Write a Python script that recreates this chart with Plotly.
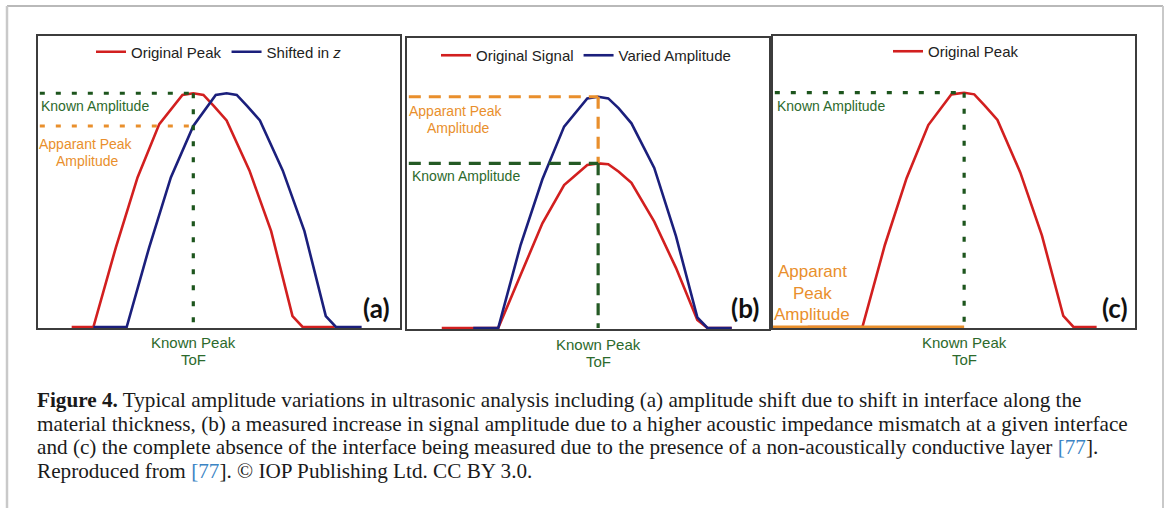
import numpy as np
import plotly.graph_objects as go

W, H = 1167, 508

# ---------------- data: time of flight (arb. units) vs normalised amplitude ----------------
# (a) interface shifted along the thickness
a_orig_t = [9.3, 15.3, 21.5, 27.5, 33.5, 39.9, 42.9, 45.7, 48.6, 52.1, 58.4, 64.4, 70.3, 73.1, 82.0]
a_orig_amp = [0, 0, 0.34, 0.64, 0.868, 0.993, 1.0, 0.993, 0.945, 0.884, 0.67, 0.41, 0.047, 0, 0]
a_shift_t = [15.3, 24.5, 30.7, 36.7, 42.9, 49.1, 52.1, 54.9, 57.8, 61.3, 67.6, 73.6, 79.5, 82.3, 89.4]
a_shift_amp = [0, 0, 0.34, 0.64, 0.86, 0.993, 1.0, 0.993, 0.945, 0.884, 0.67, 0.41, 0.047, 0, 0]

# (b) higher impedance mismatch -> larger amplitude
b_orig_t = [9.6, 25.2, 31.4, 37.4, 43.4, 49.8, 52.8, 55.6, 58.5, 62.0, 68.3, 74.3, 80.2, 83.0, 89.7]
b_orig_amp = [0, 0, 0.23, 0.453, 0.618, 0.705, 0.712, 0.708, 0.676, 0.628, 0.46, 0.26, 0.035, 0, 0]
b_var_t = [18.3, 25.2, 31.4, 37.4, 43.4, 49.8, 52.8, 55.6, 58.5, 62.0, 68.3, 74.3, 80.2, 83.0, 89.7]
b_var_amp = [0, 0, 0.36, 0.643, 0.871, 0.993, 1.0, 0.993, 0.95, 0.885, 0.692, 0.397, 0.046, 0, 0]

# (c) interface hidden behind a non-conductive layer
c_orig_t = [9.6, 24.7, 30.9, 36.9, 42.9, 49.3, 52.8, 55.6, 58.5, 62.0, 68.3, 74.3, 80.2, 83.0, 89.4]
c_orig_amp = [0, 0, 0.35, 0.635, 0.862, 0.993, 1.0, 0.993, 0.945, 0.884, 0.66, 0.39, 0.047, 0, 0]
c_apparent_amp = 0.0

legend_a = ["Original Peak", "Shifted in <i>z</i>"]
legend_b = ["Original Signal", "Varied Amplitude"]
legend_c = ["Original Peak"]

caption_lines = [
    "<b>Figure 4.</b> Typical amplitude variations in ultrasonic analysis including (a) amplitude shift due to shift in interface along the",
    "material thickness, (b) a measured increase in signal amplitude due to a higher acoustic impedance mismatch at a given interface",
    "and (c) the complete absence of the interface being measured due to the presence of a non-acoustically conductive layer "
    "<span style='color:#3b84c4'>[77</span>].",
    "Reproduced from <span style='color:#3b84c4'>[77</span>]. © IOP Publishing Ltd. CC BY 3.0.",
]

# ---------------- styling ----------------
RED = "#d21f1f"
BLUE = "#1b1f7c"
GREEN_LINE = "#1d551d"
GREEN_TEXT = "#2c6a2c"
ORANGE = "#e98f2c"
FRAME = "#3c3c3c"
SANS = "Liberation Sans, Arial, sans-serif"
SERIF = "Liberation Serif, Times New Roman, serif"
BOLD_LABEL = "Lato, Liberation Sans, sans-serif"


def px(x):
    return x / W


def py(y):
    return 1 - y / H


fig = go.Figure()

panels = [
    # (xaxis, yaxis, legend, x-domain px, y-domain px, y-range)
    ("x", "y", "legend", (38, 400), (36, 328), (-0.0043, 1.245)),
    ("x2", "y2", "legend2", (407, 769), (38, 329), (-0.0043, 1.254)),
    ("x3", "y3", "legend3", (773, 1135), (36, 328), (-0.0043, 1.242)),
]

series = [
    [(a_orig_t, a_orig_amp, RED, legend_a[0]), (a_shift_t, a_shift_amp, BLUE, legend_a[1])],
    [(b_orig_t, b_orig_amp, RED, legend_b[0]), (b_var_t, b_var_amp, BLUE, legend_b[1])],
    [(c_orig_t, c_orig_amp, RED, legend_c[0])],
]

for (xa, ya, lg, _, _, _), group in zip(panels, series):
    for t, amp, col, name in group:
        fig.add_trace(go.Scatter(
            x=t, y=amp, mode="lines", name=name,
            line=dict(color=col, width=2.6),
            xaxis=xa, yaxis=ya, legend=lg, hoverinfo="skip",
        ))

axis_common = dict(showgrid=False, zeroline=False, showticklabels=False, ticks="",
                   showline=True, mirror=True, linecolor=FRAME, linewidth=2)
layout_axes = {}
for i, (xa, ya, lg, xd, yd, yr) in enumerate(panels):
    sx = "" if i == 0 else str(i + 1)
    layout_axes["xaxis" + sx] = dict(axis_common, domain=[px(xd[0]), px(xd[1])],
                                     range=[0, 100], anchor="y" + sx)
    layout_axes["yaxis" + sx] = dict(axis_common, domain=[py(yd[1]), py(yd[0])],
                                     range=list(yr), anchor="x" + sx)

shapes = []
DOT = "5px,11px"
DASH = "12px,8px"


def seg(xref, yref, x0, y0, x1, y1, color, dash, width=3.2):
    shapes.append(dict(type="line", xref=xref, yref=yref, x0=x0, y0=y0, x1=x1, y1=y1,
                       line=dict(color=color, width=width, dash=dash), layer="above"))


# (a) known amplitude / ToF from the original peak; apparent amplitude from the shifted one
ia = int(np.argmax(a_orig_amp))
a_tof, a_known = a_orig_t[ia], a_orig_amp[ia]
a_apparent = float(np.interp(a_tof, a_shift_t, a_shift_amp))
seg("x", "y", 0.5, a_known, a_tof, a_known, GREEN_LINE, DOT)
seg("x", "y", a_tof, a_known, a_tof, 0, GREEN_LINE, DOT)
seg("x", "y", 0.5, a_apparent, a_tof, a_apparent, ORANGE, DOT)

# (b) both peaks at the same ToF, different heights
ib = int(np.argmax(b_var_amp))
b_tof, b_apparent = b_var_t[ib], b_var_amp[ib]
b_known = max(b_orig_amp)
seg("x2", "y2", 0.5, b_apparent, b_tof, b_apparent, ORANGE, DASH)
seg("x2", "y2", b_tof, b_apparent, b_tof, b_known, ORANGE, DASH)
seg("x2", "y2", 0.5, b_known, b_tof, b_known, "#245a24", DASH)
seg("x2", "y2", b_tof, b_known, b_tof, 0, "#245a24", DASH)

# (c) apparent amplitude collapses onto the baseline
ic = int(np.argmax(c_orig_amp))
c_tof, c_known = c_orig_t[ic], c_orig_amp[ic]
seg("x3", "y3", 0.5, c_known, c_tof, c_known, GREEN_LINE, DOT)
seg("x3", "y3", c_tof, c_known, c_tof, 0, GREEN_LINE, DOT)
seg("x3", "y3", 0, c_apparent_amp, c_tof, c_apparent_amp, ORANGE, "solid", 3)

# page border (top, left, right)
for x0, y0, x1, y1, col, w in [(7, 6, 1163, 6, "#a2a2a2", 1.5),
                               (7, 6, 7, 508, "#c9c9c9", 2.5),
                               (1163, 6, 1163, 508, "#c9c9c9", 2)]:
    shapes.append(dict(type="line", xref="paper", yref="paper", x0=px(x0), y0=py(y0),
                       x1=px(x1), y1=py(y1), line=dict(color=col, width=w), layer="below"))

annotations = []


def label(text, x, y, size, color, xanchor="center", family=SANS):
    annotations.append(dict(text=text, x=px(x), y=py(y), xref="paper", yref="paper",
                            xanchor=xanchor, yanchor="middle", showarrow=False,
                            font=dict(family=family, size=size, color=color)))


# panel (a)
label("Known Amplitude", 39, 106, 14, GREEN_TEXT, "left")
label("Apparant Peak", 86, 144, 14, ORANGE)
label("Amplitude", 87, 161, 14, ORANGE)
label("Known Peak", 193, 342.5, 15, GREEN_TEXT)
label("ToF", 193, 359, 15, GREEN_TEXT)
label("<b>(a)</b>", 376, 308, 26, "#111111", family=BOLD_LABEL)

# panel (b)
label("Apparant Peak", 456, 111, 14, ORANGE)
label("Amplitude", 458, 127.5, 14, ORANGE)
label("Known Amplitude", 410, 176, 14, GREEN_TEXT, "left")
label("Known Peak", 598, 344.5, 15, GREEN_TEXT)
label("ToF", 598, 361, 15, GREEN_TEXT)
label("<b>(b)</b>", 745, 308, 26, "#111111", family=BOLD_LABEL)

# panel (c)
label("Known Amplitude", 775, 106, 14, GREEN_TEXT, "left")
label("Apparant", 812, 271.5, 17, ORANGE)
label("Peak", 812, 293, 17, ORANGE)
label("Amplitude", 812, 314, 17, ORANGE)
label("Known Peak", 964, 342.5, 15, GREEN_TEXT)
label("ToF", 964, 359, 15, GREEN_TEXT)
label("<b>(c)</b>", 1115, 308, 26, "#111111", family=BOLD_LABEL)

# caption
for i, line in enumerate(caption_lines):
    label(line, 35, 400 + 23.5 * i, 21.2, "#1a1a1a", "left", SERIF)

legend_common = dict(orientation="h", xanchor="left", yanchor="middle",
                     bgcolor="rgba(0,0,0,0)", borderwidth=0, itemwidth=30,
                     font=dict(family=SANS, size=15, color="#222222"), traceorder="normal")

fig.update_layout(
    width=W, height=H, margin=dict(l=0, r=0, t=0, b=0),
    paper_bgcolor="white", plot_bgcolor="white",
    showlegend=True,
    legend=dict(legend_common, x=px(91), y=py(52)),
    legend2=dict(legend_common, x=px(436), y=py(55.5)),
    legend3=dict(legend_common, x=px(888), y=py(51.5)),
    shapes=shapes, annotations=annotations,
    **layout_axes,
)

fig.write_html("out.html")
